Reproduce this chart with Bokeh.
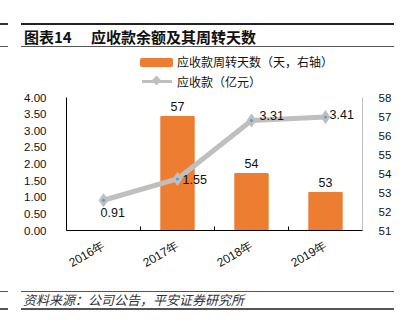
import math
from bokeh.plotting import figure
from bokeh.models import (ColumnDataSource, LinearAxis, Range1d, FixedTicker,
                          LabelSet, Div)
from bokeh.layouts import column
from bokeh.core.properties import value
from bokeh.embed import file_html
from bokeh.resources import INLINE

# ---- data ----
categories = ["2016年", "2017年", "2018年", "2019年"]
receivable = [0.91, 1.55, 3.31, 3.41]          # 应收款（亿元） left axis
turnover_days = [None, 57, 54, 53]             # 应收款周转天数（天，右轴）
left_ticks = [0, 0.5, 1, 1.5, 2, 2.5, 3, 3.5, 4]
right_ticks = [51, 52, 53, 54, 55, 56, 57, 58]
series_names = ["应收款周转天数（天，右轴）", "应收款（亿元）"]

ORANGE = "#ED7D31"
GRAY = "#BFBFBF"
BLUE = "#5B9BD5"
NUMFONT = "Liberation Sans"
CJK = "Noto Sans CJK SC"

xs = list(range(len(categories)))

header_html = f"""
<div style="position:relative;width:409px;height:92px;">
 <div style="position:absolute;left:0px;top:23px;width:8px;border-top:2px solid #333;"></div>
 <div style="position:absolute;left:0px;top:46px;width:8px;border-top:1px solid #555;"></div>
 <div style="position:absolute;left:21px;top:23px;width:373px;border-top:2px solid #222;"></div>
 <div style="position:absolute;left:24px;top:26px;font-family:'{CJK}';font-weight:bold;font-size:15px;color:#111;white-space:nowrap;">图表14</div>
 <div style="position:absolute;left:91px;top:26px;font-family:'{CJK}';font-weight:bold;font-size:15px;color:#111;white-space:nowrap;">应收款余额及其周转天数</div>
 <div style="position:absolute;left:21px;top:46px;width:373px;border-top:1px solid #555;"></div>
 <div style="position:absolute;left:140px;top:58px;width:33px;height:9px;background:{ORANGE};border-radius:2px;"></div>
 <div style="position:absolute;left:177px;top:53px;font-family:'{CJK}';font-size:12px;line-height:18px;color:#111;white-space:nowrap;">{series_names[0]}</div>
 <div style="position:absolute;left:142px;top:80px;width:30px;height:3px;background:{GRAY};"></div>
 <div style="position:absolute;left:153px;top:77px;width:7px;height:7px;background:{GRAY};transform:rotate(45deg);"></div>
 <div style="position:absolute;left:177px;top:73px;font-family:'{CJK}';font-size:12px;line-height:18px;color:#111;white-space:nowrap;">{series_names[1]}</div>
</div>
"""
footer_html = f"""
<div style="position:relative;width:409px;height:43px;">
 <div style="position:absolute;left:0px;top:1px;width:8px;border-top:1px solid #555;"></div>
 <div style="position:absolute;left:0px;top:18px;width:8px;border-top:2px solid #555;"></div>
 <div style="position:absolute;left:21px;top:1px;width:373px;border-top:1px solid #555;"></div>
 <div style="position:absolute;left:23px;top:1px;font-family:'{CJK}';font-style:italic;font-size:13px;color:#333;white-space:nowrap;">资料来源：公司公告，平安证券研究所</div>
 <div style="position:absolute;left:21px;top:18px;width:373px;border-top:2px solid #555;"></div>
</div>
"""
header_div = Div(text=header_html, width=409, height=92, margin=0)
footer_div = Div(text=footer_html, width=409, height=43, margin=0)

p = figure(width=409, height=198, output_backend="svg", toolbar_location=None,
           x_range=Range1d(-0.5, len(categories) - 0.5), y_range=Range1d(0, 4),
           min_border_left=66, min_border_right=47, min_border_top=5, min_border_bottom=60,
           y_axis_location=None, x_axis_location=None)
p.outline_line_color = None
p.xgrid.visible = False
p.ygrid.visible = False
p.background_fill_color = None
p.border_fill_color = "white"
p.extra_y_ranges = {"right": Range1d(51, 58)}

# axes
left_axis = LinearAxis(ticker=FixedTicker(ticks=left_ticks),
                       major_label_overrides={t: f"{t:.2f}" for t in left_ticks})
left_axis.axis_line_color = "black"
left_axis.major_tick_line_color = None
left_axis.minor_tick_line_color = None
left_axis.major_label_standoff = 14
left_axis.major_label_text_font = NUMFONT
left_axis.major_label_text_font_size = "11.5px"
left_axis.major_label_text_color = "#111"
p.add_layout(left_axis, "left")

right_axis = LinearAxis(y_range_name="right", ticker=FixedTicker(ticks=right_ticks))
right_axis.axis_line_color = GRAY
right_axis.major_tick_line_color = None
right_axis.minor_tick_line_color = None
right_axis.major_label_standoff = 10
right_axis.major_label_text_font = NUMFONT
right_axis.major_label_text_font_size = "11.5px"
right_axis.major_label_text_color = "#111"
p.add_layout(right_axis, "right")

bottom_axis = LinearAxis(ticker=FixedTicker(ticks=xs, minor_ticks=[i - 0.5 for i in range(len(categories) + 1)]),
                         major_label_overrides={i: c for i, c in enumerate(categories)})
bottom_axis.axis_line_color = "black"
bottom_axis.major_tick_line_color = None
bottom_axis.minor_tick_line_color = "black"
bottom_axis.minor_tick_in = 4
bottom_axis.minor_tick_out = 0
bottom_axis.major_label_orientation = math.pi / 6
bottom_axis.major_label_standoff = 8
bottom_axis.major_label_text_font = NUMFONT
bottom_axis.major_label_text_font_size = "12px"
bottom_axis.major_label_text_color = "#111"
p.add_layout(bottom_axis, "below")

# bars
bar_x = [x for x, d in zip(xs, turnover_days) if d is not None]
bar_top = [d for d in turnover_days if d is not None]
bar_src = ColumnDataSource(dict(x=bar_x, top=bar_top, bottom=[51] * len(bar_x),
                                lbl=[str(d) for d in bar_top]))
p.vbar(x="x", top="top", bottom="bottom", width=0.45, source=bar_src,
       y_range_name="right", fill_color=ORANGE, line_color=ORANGE)
p.add_layout(LabelSet(x="x", y="top", text="lbl", source=bar_src, y_range_name="right",
                      y_offset=6, text_align="center", text_baseline="bottom",
                      text_font=value(NUMFONT), text_font_size="12.5px", text_color="#111"))

# line
line_src = ColumnDataSource(dict(x=xs, y=receivable, lbl=[f"{v:.2f}" for v in receivable],
                                 xo=[-3, 5, 8, 4], yo=[-8, -1, 5, 3],
                                 base=["top", "middle", "middle", "middle"]))
p.line("x", "y", source=line_src, line_color=GRAY, line_width=5)
p.scatter("x", "y", source=line_src, marker="diamond", size=13,
          fill_color=GRAY, line_color=GRAY)
p.scatter("x", "y", source=line_src, marker="circle", size=3, fill_color=BLUE, line_color=None)
p.add_layout(LabelSet(x="x", y="y", text="lbl", source=line_src, x_offset="xo", y_offset="yo",
                      text_align="left", text_baseline="base",
                      text_font=value(NUMFONT), text_font_size="12.5px", text_color="#111"))

layout = column(header_div, p, footer_div, spacing=0)
open("out.html", "w").write(file_html(layout, INLINE))
